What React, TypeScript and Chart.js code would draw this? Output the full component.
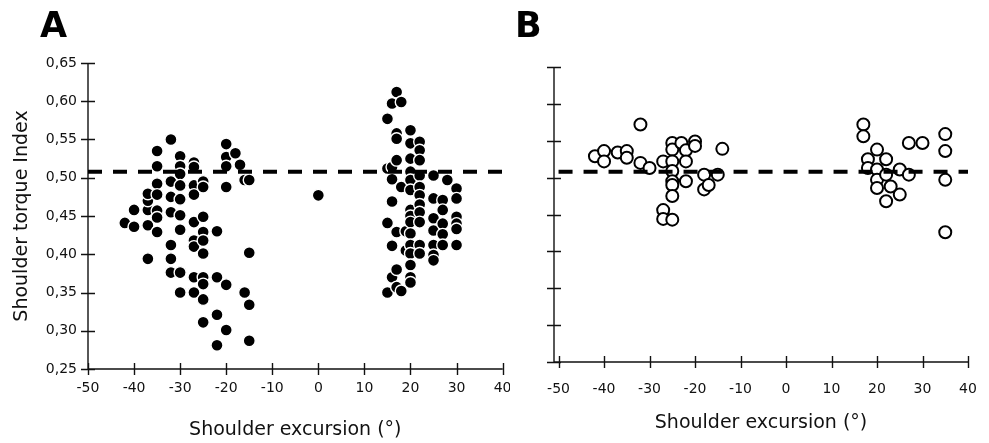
import { useEffect, useRef } from "react";
import { Chart, registerables } from "chart.js";

Chart.register(...registerables);

// ---- Data ----
const X_TICKS = [-50, -40, -30, -20, -10, 0, 10, 20, 30, 40];
const Y_TICKS = [0.25, 0.3, 0.35, 0.4, 0.45, 0.5, 0.55, 0.6, 0.65];
const REFERENCE_INDEX = 0.508;
const X_TITLE = "Shoulder excursion (°)";
const Y_TITLE = "Shoulder torque Index";

// Panel A (filled dots): shoulder excursion (°) and torque index
const A_EXCURSION = [
  -42,
  -40, -40,
  -37, -37, -37, -37, -37,
  -35, -35, -35, -35, -35, -35, -35,
  -32, -32, -32, -32, -32, -32, -32,
  -30, -30, -30, -30, -30, -30, -30, -30, -30,
  -27, -27, -27, -27, -27, -27, -27, -27, -27,
  -25, -25, -25, -25, -25, -25, -25, -25, -25, -25,
  -22, -22, -22, -22,
  -20, -20, -20, -20, -20, -20,
  -18, -17, -16, -16,
  -15, -15, -15, -15,
  0,
  15, 15, 15, 15,
  16, 16, 16, 16, 16, 16,
  17, 17, 17, 17, 17, 17, 17,
  18, 18, 18,
  19, 19,
  20, 20, 20, 20, 20, 20, 20, 20, 20, 20, 20, 20, 20, 20, 20,
  22, 22, 22, 22, 22, 22, 22, 22, 22, 22, 22,
  25, 25, 25, 25, 25, 25, 25,
  27, 27, 27, 27, 27,
  28,
  30, 30, 30, 30, 30, 30,
];
const A_TORQUE = [
  0.441,
  0.458, 0.436,
  0.394, 0.438, 0.458, 0.47, 0.479,
  0.535, 0.515, 0.492, 0.478, 0.457, 0.448, 0.429,
  0.55, 0.495, 0.475, 0.455, 0.412, 0.394, 0.376,
  0.528, 0.515, 0.505, 0.49, 0.472, 0.451, 0.432, 0.376, 0.35,
  0.52, 0.514, 0.49, 0.478, 0.442, 0.418, 0.41, 0.37, 0.35,
  0.495, 0.488, 0.449, 0.429, 0.418, 0.401, 0.37, 0.361, 0.341, 0.311,
  0.43, 0.37, 0.321, 0.281,
  0.544, 0.527, 0.515, 0.488, 0.36, 0.301,
  0.532, 0.517, 0.497, 0.35,
  0.497, 0.402, 0.334, 0.287,
  0.477,
  0.577, 0.512, 0.441, 0.35,
  0.597, 0.514, 0.498, 0.469, 0.411, 0.37,
  0.612, 0.558, 0.551, 0.523, 0.429, 0.38, 0.357,
  0.599, 0.488, 0.352,
  0.43, 0.405,
  0.562, 0.545, 0.525, 0.508, 0.497, 0.484, 0.458, 0.45, 0.442, 0.427, 0.412, 0.401, 0.386, 0.37, 0.363,
  0.547, 0.536, 0.523, 0.503, 0.488, 0.477, 0.465, 0.455, 0.442, 0.412, 0.401,
  0.503, 0.473, 0.447, 0.431, 0.412, 0.399, 0.392,
  0.471, 0.458, 0.44, 0.426, 0.412,
  0.497,
  0.486, 0.473, 0.449, 0.44, 0.433, 0.412,
];

// Panel B (open circles)
const B_EXCURSION = [
  -42, -40, -40, -37, -35, -35, -32, -32, -30,
  -27, -27, -27,
  -25, -25, -25, -25, -25, -25, -25, -25,
  -23, -22, -22, -22, -20, -20,
  -18, -18, -17, -15, -14,
  17, 17, 18, 18,
  20, 20, 20, 20,
  22, 22, 22, 23,
  25, 25, 27, 27, 30,
  35, 35, 35, 35,
];
const B_TORQUE = [
  0.529, 0.536, 0.522, 0.534, 0.536, 0.527, 0.572, 0.52, 0.513,
  0.522, 0.456, 0.444,
  0.547, 0.538, 0.522, 0.509, 0.495, 0.49, 0.475, 0.443,
  0.547, 0.537, 0.522, 0.495, 0.549, 0.543,
  0.504, 0.484, 0.49, 0.504, 0.539,
  0.572, 0.556, 0.525, 0.513,
  0.538, 0.511, 0.497, 0.486,
  0.525, 0.504, 0.468, 0.488,
  0.511, 0.477, 0.547, 0.504, 0.547,
  0.559, 0.536, 0.497, 0.426,
];

const FONT = "'DejaVu Sans', sans-serif";

type PanelSpec = {
  letter: string;
  letterX: number;
  xs: number[];
  ys: number[];
  filled: boolean;
  xMin: number;
  showYLabels: boolean;
  padding: { top: number; right: number; left: number; bottom: number };
  yWidth: number;
  xHeight: number;
  xTickPad: number;
  xTitlePad: number;
};

const axesPlugin = {
  id: "crossAxes",
  beforeDatasetsDraw(chart: any) {
    const { ctx, chartArea, scales } = chart;
    const xs = scales.x;
    const ys = scales.y;
    ctx.save();
    ctx.strokeStyle = "#111";
    ctx.lineWidth = 1.4;
    ctx.beginPath();
    ctx.moveTo(chartArea.left, ys.getPixelForValue(Y_TICKS[Y_TICKS.length - 1]));
    ctx.lineTo(chartArea.left, chartArea.bottom);
    ctx.lineTo(xs.getPixelForValue(X_TICKS[X_TICKS.length - 1]), chartArea.bottom);
    X_TICKS.forEach((v) => {
      const px = Math.round(xs.getPixelForValue(v)) + 0.5;
      ctx.moveTo(px, chartArea.bottom - 6);
      ctx.lineTo(px, chartArea.bottom + 6);
    });
    Y_TICKS.forEach((v) => {
      const py = Math.round(ys.getPixelForValue(v)) + 0.5;
      ctx.moveTo(chartArea.left - 7, py);
      ctx.lineTo(chartArea.left + 7, py);
    });
    ctx.stroke();
    ctx.restore();
  },
};

const letterPlugin = {
  id: "panelLetter",
  afterDraw(chart: any, _args: any, opts: any) {
    const { ctx } = chart;
    ctx.save();
    ctx.fillStyle = "#000";
    ctx.font = "bold 35px 'DejaVu Sans', sans-serif";
    ctx.textBaseline = "alphabetic";
    ctx.textAlign = "left";
    ctx.fillText(opts.text, opts.x, opts.y);
    ctx.restore();
  },
};

function Panel({ spec, left, width }: { spec: PanelSpec; left: number; width: number }) {
  const ref = useRef<HTMLCanvasElement | null>(null);
  useEffect(() => {
    if (!ref.current) return;
    const points = spec.xs.map((x, i) => ({ x, y: spec.ys[i] }));
    const chart = new Chart(ref.current, {
      type: "scatter",
      data: {
        datasets: [
          {
            label: "reference",
            data: [
              { x: X_TICKS[0], y: REFERENCE_INDEX },
              { x: X_TICKS[X_TICKS.length - 1], y: REFERENCE_INDEX },
            ],
            showLine: true,
            borderColor: "#000",
            borderWidth: 4,
            borderDash: [14, 11],
            pointRadius: 0,
            order: 0,
          } as any,
          {
            label: "subjects",
            data: points,
            pointRadius: 6,
            pointHoverRadius: 6,
            backgroundColor: spec.filled ? "#000" : "#fff",
            borderColor: spec.filled ? "#fff" : "#000",
            borderWidth: spec.filled ? 1.4 : 2,
            order: 1,
            clip: false,
          } as any,
        ],
      },
      options: {
        animation: false,
        responsive: false,
        maintainAspectRatio: false,
        events: [],
        layout: { padding: spec.padding },
        plugins: {
          legend: { display: false },
          tooltip: { enabled: false },
          panelLetter: { text: spec.letter, x: spec.letterX, y: 37 },
        } as any,
        scales: {
          x: {
            type: "linear",
            min: spec.xMin,
            max: 40,
            afterBuildTicks: (s: any) => {
              s.ticks = X_TICKS.map((v) => ({ value: v }));
            },
            afterFit: (s: any) => {
              s.height = spec.xHeight;
              s.paddingLeft = 0;
              s.paddingRight = 0;
            },
            grid: { display: false, drawTicks: false },
            border: { display: false },
            ticks: {
              color: "#111",
              padding: spec.xTickPad,
              maxRotation: 0,
              autoSkip: false,
              font: { family: FONT, size: 14 },
              callback: (v: any) => String(v),
            },
            title: {
              display: true,
              text: X_TITLE,
              color: "#111",
              font: { family: FONT, size: 19 },
              padding: { top: 0, bottom: spec.xTitlePad },
            },
          },
          y: {
            type: "linear",
            min: 0.25,
            max: 0.65,
            afterBuildTicks: (s: any) => {
              s.ticks = Y_TICKS.map((v) => ({ value: v }));
            },
            afterFit: (s: any) => {
              s.width = spec.yWidth;
              s.paddingTop = 0;
              s.paddingBottom = 0;
            },
            grid: { display: false, drawTicks: false },
            border: { display: false },
            ticks: {
              display: spec.showYLabels,
              color: "#111",
              padding: 11,
              font: { family: FONT, size: 14 },
              callback: (v: any) => Number(v).toFixed(2).replace(".", ","),
            },
            title: {
              display: spec.showYLabels,
              text: Y_TITLE,
              color: "#111",
              font: { family: FONT, size: 19 },
              padding: { top: 10.5, bottom: 0 },
            },
          },
        },
      },
      plugins: [axesPlugin, letterPlugin],
    });
    return () => chart.destroy();
  }, [spec]);
  return (
    <div style={{ position: "absolute", left, top: 0, width, height: 443 }}>
      <canvas ref={ref} width={width} height={443} style={{ display: "block", width, height: 443 }} />
    </div>
  );
}

const SPEC_A: PanelSpec = {
  letter: "A",
  letterX: 40,
  xs: A_EXCURSION,
  ys: A_TORQUE,
  filled: true,
  xMin: -50,
  showYLabels: true,
  padding: { top: 63, right: 1, left: 0, bottom: 0 },
  yWidth: 88,
  xHeight: 74,
  xTickPad: 11,
  xTitlePad: 1.5,
};

const SPEC_B: PanelSpec = {
  letter: "B",
  letterX: 15,
  xs: B_EXCURSION,
  ys: B_TORQUE,
  filled: false,
  xMin: -51,
  showYLabels: false,
  padding: { top: 67, right: 21, left: 0, bottom: 0 },
  yWidth: 54,
  xHeight: 81,
  xTickPad: 19,
  xTitlePad: 8.5,
};

export default function App() {
  return (
    <div style={{ position: "absolute", left: 0, top: 0, width: 989, height: 443, background: "#fff", overflow: "hidden" }}>
      <Panel spec={SPEC_A} left={0} width={510} />
      <Panel spec={SPEC_B} left={500} width={489} />
    </div>
  );
}
